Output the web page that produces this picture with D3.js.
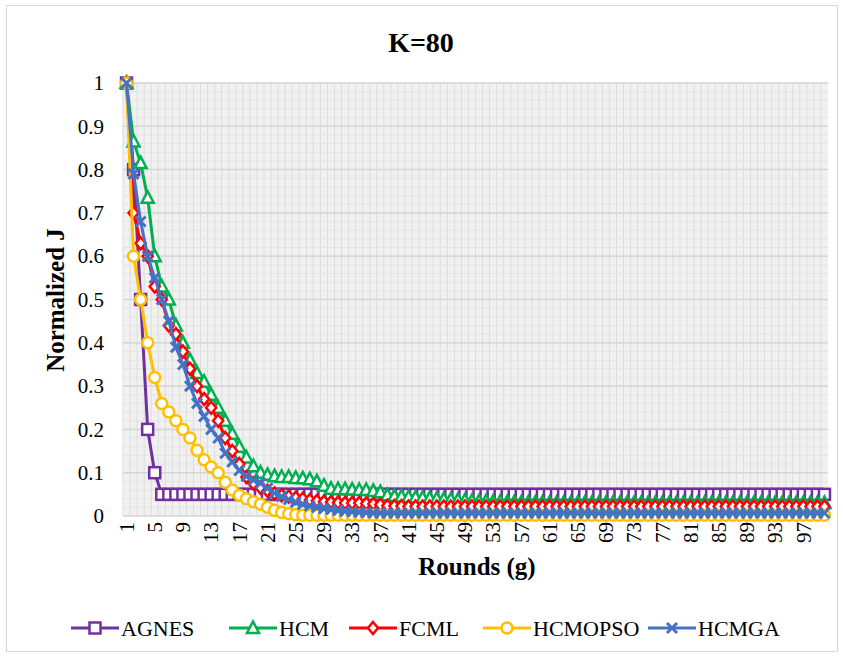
<!DOCTYPE html>
<html>
<head>
<meta charset="utf-8">
<script src="https://cdn.jsdelivr.net/npm/d3@7"></script>
<style>
  body { margin: 0; background: #fff; }
  svg text { font-family: "Liberation Serif", "Times New Roman", Times, serif !important; }
</style>
</head>
<body>
<svg id="chart" width="843" height="656"></svg>
<script>
// rounds 1..100
const rounds = [
  1,2,3,4,5,6,7,8,9,10,11,12,13,14,15,16,17,18,19,20,
  21,22,23,24,25,26,27,28,29,30,31,32,33,34,35,36,37,38,39,40,
  41,42,43,44,45,46,47,48,49,50,51,52,53,54,55,56,57,58,59,60,
  61,62,63,64,65,66,67,68,69,70,71,72,73,74,75,76,77,78,79,80,
  81,82,83,84,85,86,87,88,89,90,91,92,93,94,95,96,97,98,99,100
];

const agnes = [
  1,0.8,0.5,0.2,0.1,0.05,0.05,0.05,0.05,0.05,0.05,0.05,0.05,0.05,0.05,0.05,0.05,0.05,0.05,0.05,
  0.05,0.05,0.05,0.05,0.05,0.05,0.05,0.05,0.05,0.05,0.05,0.05,0.05,0.05,0.05,0.05,0.05,0.05,0.05,0.05,
  0.05,0.05,0.05,0.05,0.05,0.05,0.05,0.05,0.05,0.05,0.05,0.05,0.05,0.05,0.05,0.05,0.05,0.05,0.05,0.05,
  0.05,0.05,0.05,0.05,0.05,0.05,0.05,0.05,0.05,0.05,0.05,0.05,0.05,0.05,0.05,0.05,0.05,0.05,0.05,0.05,
  0.05,0.05,0.05,0.05,0.05,0.05,0.05,0.05,0.05,0.05,0.05,0.05,0.05,0.05,0.05,0.05,0.05,0.05,0.05,0.05
];

const hcm = [
  1,0.865,0.815,0.735,0.6,0.53,0.5,0.44,0.4,0.36,0.33,0.31,0.28,0.25,0.22,0.19,0.16,0.135,0.115,0.1,
  0.095,0.092,0.09,0.09,0.088,0.087,0.085,0.08,0.07,0.063,0.062,0.062,0.061,0.06,0.06,0.058,0.055,0.048,0.046,0.045,
  0.044,0.043,0.042,0.041,0.04,0.039,0.038,0.037,0.036,0.035,0.034,0.034,0.033,0.033,0.032,0.032,0.031,0.031,0.031,0.031,
  0.03,0.03,0.03,0.03,0.03,0.03,0.03,0.03,0.03,0.03,0.03,0.03,0.03,0.03,0.03,0.03,0.03,0.03,0.03,0.03,
  0.03,0.03,0.03,0.03,0.03,0.03,0.03,0.03,0.03,0.03,0.03,0.03,0.03,0.03,0.03,0.03,0.03,0.03,0.03,0.03
];

const fcml = [
  1,0.7,0.63,0.6,0.53,0.5,0.44,0.42,0.38,0.34,0.3,0.27,0.25,0.22,0.18,0.15,0.12,0.09,0.075,0.065,
  0.058,0.052,0.048,0.045,0.042,0.04,0.037,0.035,0.033,0.032,0.031,0.03,0.03,0.03,0.029,0.028,0.026,0.024,0.023,0.023,
  0.022,0.022,0.022,0.022,0.022,0.022,0.022,0.022,0.022,0.022,0.022,0.022,0.022,0.022,0.022,0.022,0.022,0.022,0.022,0.022,
  0.022,0.022,0.022,0.022,0.022,0.022,0.022,0.022,0.022,0.022,0.022,0.022,0.022,0.022,0.022,0.022,0.022,0.022,0.022,0.022,
  0.022,0.022,0.022,0.022,0.022,0.022,0.022,0.022,0.022,0.022,0.022,0.022,0.022,0.022,0.022,0.022,0.022,0.022,0.022,0.022
];

const hcmopso = [
  1,0.6,0.5,0.4,0.32,0.26,0.24,0.22,0.2,0.18,0.152,0.13,0.113,0.1,0.078,0.06,0.048,0.04,0.033,0.027,
  0.02,0.013,0.008,0.005,0.003,0.002,0.002,0.002,0.002,0.002,0.002,0.002,0.002,0.002,0.002,0.002,0.002,0.002,0.002,0.002,
  0.002,0.002,0.002,0.002,0.002,0.002,0.002,0.002,0.002,0.002,0.002,0.002,0.002,0.002,0.002,0.002,0.002,0.002,0.002,0.002,
  0.002,0.002,0.002,0.002,0.002,0.002,0.002,0.002,0.002,0.002,0.002,0.002,0.002,0.002,0.002,0.002,0.002,0.002,0.002,0.002,
  0.002,0.002,0.002,0.002,0.002,0.002,0.002,0.002,0.002,0.002,0.002,0.002,0.002,0.002,0.002,0.002,0.002,0.002,0.002,0.002
];

const hcmga = [
  1,0.79,0.68,0.6,0.55,0.5,0.45,0.39,0.35,0.3,0.26,0.23,0.2,0.18,0.145,0.125,0.105,0.092,0.083,0.076,
  0.064,0.053,0.045,0.038,0.032,0.027,0.023,0.02,0.017,0.015,0.013,0.011,0.01,0.009,0.008,0.007,0.007,0.007,0.007,0.007,
  0.007,0.007,0.007,0.007,0.007,0.007,0.007,0.007,0.007,0.007,0.007,0.007,0.007,0.007,0.007,0.007,0.007,0.007,0.007,0.007,
  0.007,0.007,0.007,0.007,0.007,0.007,0.007,0.007,0.007,0.007,0.007,0.007,0.007,0.007,0.007,0.007,0.007,0.007,0.007,0.007,
  0.007,0.007,0.007,0.007,0.007,0.007,0.007,0.007,0.007,0.007,0.007,0.007,0.007,0.007,0.007,0.007,0.007,0.007,0.007,0.007
];

const seriesNames = ['AGNES', 'HCM', 'FCML', 'HCMOPSO', 'HCMGA'];
const seriesValues = [agnes, hcm, fcml, hcmopso, hcmga];
const seriesColors = ['#7030A0', '#00B050', '#FF0000', '#FFC000', '#4472C4'];
const seriesMarkers = ['square', 'triangle', 'diamond', 'circle', 'cross'];

const yTicks = [0, 0.1, 0.2, 0.3, 0.4, 0.5, 0.6, 0.7, 0.8, 0.9, 1];
const xTickLabels = rounds.filter(r => (r - 1) % 4 === 0);

const margin = ({top: 83, right: 15, bottom: 140, left: 123});
const width = 843;
const height = 656;
const plotBottom = 516;

const svg = d3.select('#chart');

// outer frame
svg.append('rect')
  .attr('x', 6.5).attr('y', 5.5)
  .attr('width', 831).attr('height', 646)
  .attr('fill', '#fff')
  .attr('stroke', '#d9d9d9');

const xScale = d3.scaleBand()
  .domain(rounds)
  .range([margin.left, width - margin.right])
  .padding(0);
const xc = d => xScale(d) + xScale.bandwidth() / 2;

const yScale = d3.scaleLinear()
  .domain([0, 1])
  .range([plotBottom, margin.top]);

// plot area background + grid
const plot = svg.append('g');
plot.append('rect')
  .attr('x', margin.left).attr('y', margin.top)
  .attr('width', width - margin.right - margin.left)
  .attr('height', plotBottom - margin.top)
  .attr('fill', '#f1f1f1');

plot.selectAll('.vgrid')
  .data(rounds)
  .join('line')
  .attr('class', 'vgrid')
  .attr('x1', d => xScale(d)).attr('x2', d => xScale(d))
  .attr('y1', margin.top).attr('y2', plotBottom)
  .attr('stroke', '#dcdcdc')
  .attr('stroke-width', 1);

const minorY = d3.range(0, 1.0001, 0.02);
plot.selectAll('.hminor')
  .data(minorY)
  .join('line')
  .attr('class', 'hminor')
  .attr('x1', margin.left).attr('x2', width - margin.right)
  .attr('y1', d => yScale(d)).attr('y2', d => yScale(d))
  .attr('stroke', '#e4e4e4');

plot.selectAll('.hmajor')
  .data(yTicks)
  .join('line')
  .attr('class', 'hmajor')
  .attr('x1', margin.left).attr('x2', width - margin.right)
  .attr('y1', d => yScale(d)).attr('y2', d => yScale(d))
  .attr('stroke', '#d6d6d6')
  .attr('stroke-width', 1.5);

// axes
const yAxis = g => g
  .attr('transform', `translate(${margin.left - 5}, 0)`)
  .call(d3.axisLeft(yScale).tickValues(yTicks).tickSize(0).tickPadding(14)
    .tickFormat(d => d3.format('~g')(d)))
  .call(g => g.select('.domain').remove())
  .call(g => g.selectAll('text').attr('font-size', 21).attr('fill', '#000'));

const xAxis = g => g
  .attr('transform', `translate(0, ${plotBottom})`)
  .call(d3.axisBottom(xScale).tickValues(xTickLabels).tickSize(0))
  .call(g => g.select('.domain').remove())
  .call(g => g.selectAll('text')
    .attr('font-size', 21).attr('fill', '#000')
    .attr('transform', 'rotate(-90)')
    .attr('text-anchor', 'end')
    .attr('dy', '0.35em')
    .attr('x', -6)
    .attr('y', 0));

svg.append('g').attr('class', 'y-axis').call(yAxis);
svg.append('g').attr('class', 'x-axis').call(xAxis);

// marker drawing
function drawMarker(sel, type, color) {
  if (type === 'square') {
    sel.append('rect').attr('x', -5.5).attr('y', -5.5).attr('width', 11).attr('height', 11)
      .attr('fill', '#fff').attr('stroke', color).attr('stroke-width', 2.5);
  } else if (type === 'triangle') {
    sel.append('path').attr('d', 'M0,-6.5L6,5L-6,5Z')
      .attr('fill', '#fff').attr('stroke', color).attr('stroke-width', 2.5);
  } else if (type === 'diamond') {
    sel.append('path').attr('d', 'M0,-6L5,0L0,6L-5,0Z')
      .attr('fill', '#fff').attr('stroke', color).attr('stroke-width', 2.5);
  } else if (type === 'circle') {
    sel.append('circle').attr('r', 5.5)
      .attr('fill', '#fff').attr('stroke', color).attr('stroke-width', 2.5);
  } else if (type === 'cross') {
    sel.append('path').attr('d', 'M-5,-5L5,5M-5,5L5,-5')
      .attr('fill', 'none').attr('stroke', color).attr('stroke-width', 3);
  }
}

const line = d3.line()
  .x((d, i) => xc(rounds[i]))
  .y(d => yScale(d));

const seriesG = svg.append('g');
seriesValues.forEach((vals, k) => {
  const g = seriesG.append('g');
  g.append('path')
    .datum(vals)
    .attr('d', line)
    .attr('fill', 'none')
    .attr('stroke', seriesColors[k])
    .attr('stroke-width', 3)
    .attr('stroke-linejoin', 'round');
  g.selectAll('.mk')
    .data(vals)
    .join('g')
    .attr('class', 'mk')
    .attr('transform', (d, i) => `translate(${xc(rounds[i])},${yScale(d)})`)
    .each(function () { drawMarker(d3.select(this), seriesMarkers[k], seriesColors[k]); });
});

// titles
svg.append('text')
  .attr('x', 421).attr('y', 52)
  .attr('text-anchor', 'middle')
  .attr('font-size', 28).attr('font-weight', 'bold')
  .text('K=80');

svg.append('text')
  .attr('x', 477).attr('y', 575)
  .attr('text-anchor', 'middle')
  .attr('font-size', 25).attr('font-weight', 'bold')
  .text('Rounds (g)');

svg.append('text')
  .attr('transform', 'translate(64, 300) rotate(-90)')
  .attr('text-anchor', 'middle')
  .attr('font-size', 25).attr('font-weight', 'bold')
  .text('Normalized J');

// legend
const legendX = [71, 229, 349, 483, 648];
const legendY = 628;
seriesNames.forEach((name, k) => {
  const g = svg.append('g').attr('transform', `translate(${legendX[k]}, ${legendY})`);
  g.append('line').attr('x1', 0).attr('x2', 48).attr('y1', 0).attr('y2', 0)
    .attr('stroke', seriesColors[k]).attr('stroke-width', 3);
  const m = g.append('g').attr('transform', 'translate(24,0)');
  drawMarker(m, seriesMarkers[k], seriesColors[k]);
  g.append('text').attr('x', 50).attr('y', 0).attr('dy', '0.35em')
    .attr('font-size', 22).text(name);
});
</script>
</body>
</html>
